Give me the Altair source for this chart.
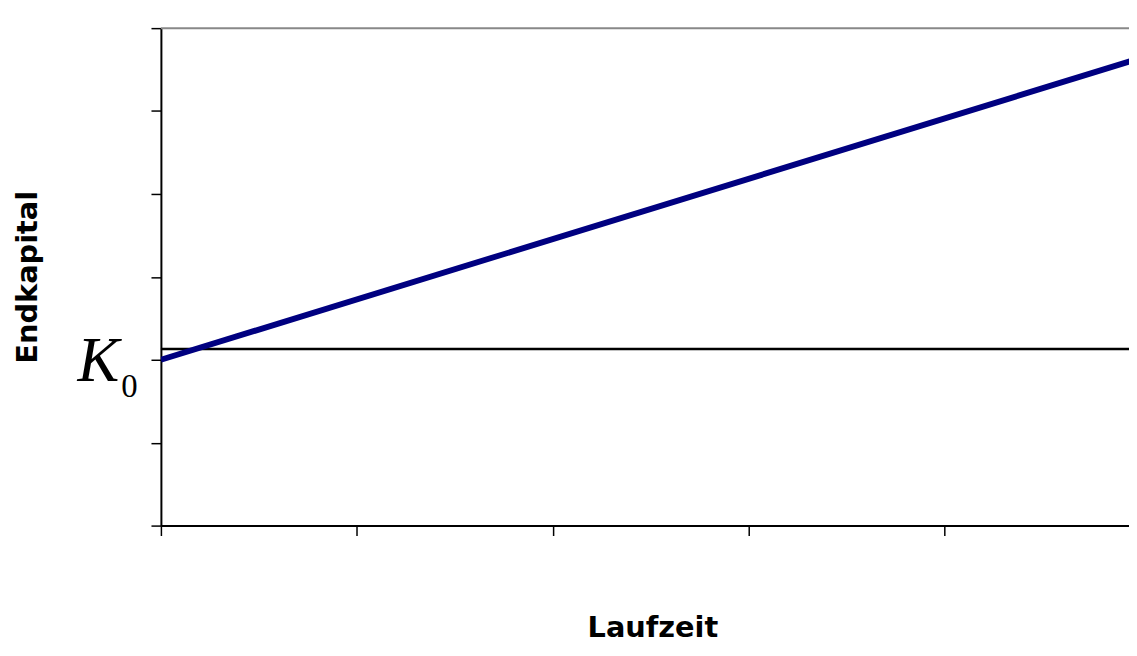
import altair as alt
import pandas as pd

# Data
laufzeit = [0, 5]
endkapital = [2.0, 5.64]
k0_level = [2.13]
top_level = [6]
x_ticks = [0, 1, 2, 3, 4]
y_ticks = [0, 1, 2, 3, 4, 5, 6]
k0_tick = [2]

line_df = pd.DataFrame({"Laufzeit": laufzeit, "Endkapital": endkapital})
k0_df = pd.DataFrame({"y": k0_level})
top_df = pd.DataFrame({"y": top_level})
lab_df = pd.DataFrame({"x": [0], "y": k0_tick})

xscale = alt.Scale(domain=[0, 4.94], nice=False, zero=False)
yscale = alt.Scale(domain=[0, 6], nice=False, zero=False)

xaxis = alt.Axis(
    values=x_ticks, labels=False, grid=False, title="Laufzeit",
    domainColor="black", domainWidth=2, tickColor="black", tickWidth=1.5, tickSize=10,
    titleFont="DejaVu Sans", titleFontWeight="bold", titleFontSize=29, titleColor="black",
    titleX=495, titleY=112, titleBaseline="alphabetic", titleAlign="center",
)
yaxis = alt.Axis(
    values=y_ticks, labels=False, grid=False, title="Endkapital",
    domainColor="black", domainWidth=2, tickColor="black", tickWidth=1.5, tickSize=10,
    titleFont="DejaVu Sans", titleFontWeight="bold", titleFontSize=29, titleColor="black",
    titleX=-134, titleY=250.5, titleAngle=270, titleBaseline="middle", titleAlign="center",
)

top = alt.Chart(top_df).mark_rule(color="#888888", strokeWidth=2).encode(
    y=alt.Y("y:Q", scale=yscale)
)

hline = alt.Chart(k0_df).mark_rule(color="black", strokeWidth=2.5).encode(
    y=alt.Y("y:Q", scale=yscale)
)

line = alt.Chart(line_df).mark_line(color="#000080", strokeWidth=6, clip=True).encode(
    x=alt.X("Laufzeit:Q", scale=xscale, axis=xaxis),
    y=alt.Y("Endkapital:Q", scale=yscale, axis=yaxis),
)

k_text = alt.Chart(lab_df).mark_text(
    text="K", font="Liberation Serif", fontStyle="italic", fontSize=63,
    align="right", baseline="alphabetic", dx=-42, dy=21, color="black"
).encode(x=alt.X("x:Q", scale=xscale), y=alt.Y("y:Q", scale=yscale))

sub_text = alt.Chart(lab_df).mark_text(
    text="0", font="Liberation Serif", fontSize=33,
    align="left", baseline="alphabetic", dx=-40, dy=37, color="black"
).encode(x=alt.X("x:Q", scale=xscale), y=alt.Y("y:Q", scale=yscale))

chart = alt.layer(top, hline, line, k_text, sub_text).properties(
    width=975, height=501,
    autosize=alt.AutoSizeParams(type="none"),
    padding={"left": 154, "top": 18, "right": 0, "bottom": 121},
    background="white",
).configure_view(strokeWidth=0)

chart.save("out.html", embed_options={"renderer": "svg", "actions": False})
